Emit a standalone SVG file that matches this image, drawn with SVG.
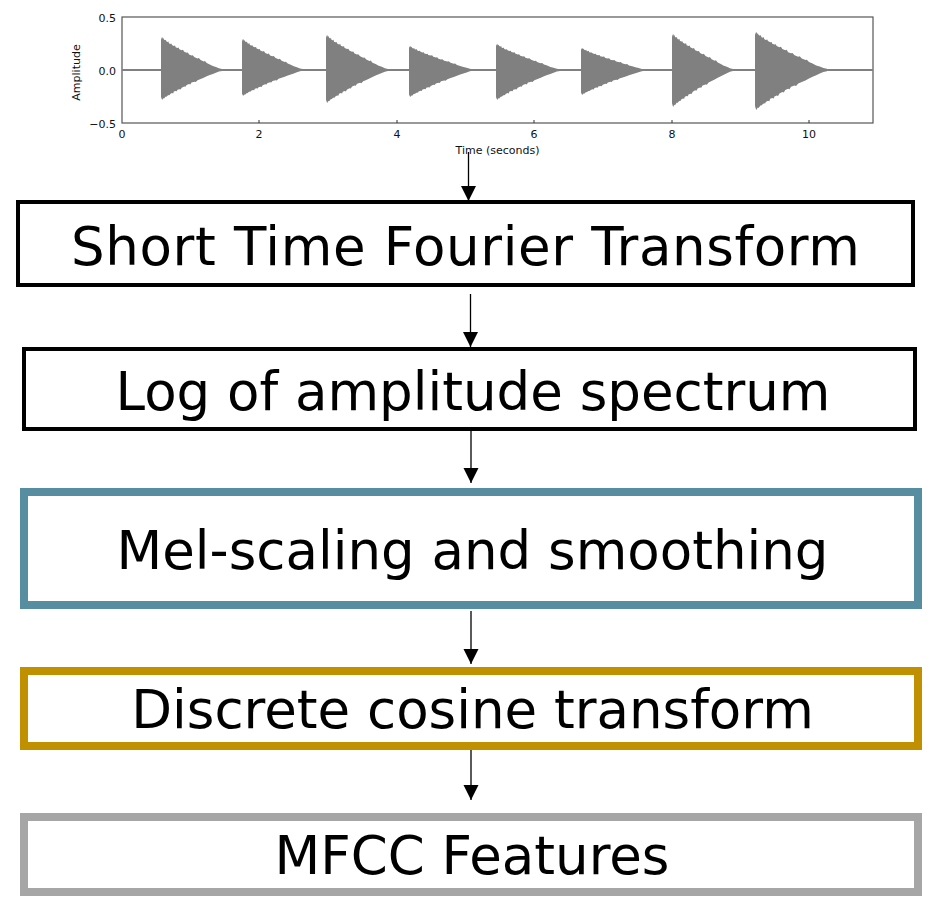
<svg xmlns="http://www.w3.org/2000/svg" width="937" height="912" viewBox="0 0 937 912">
<style>
  .box { fill: #ffffff; }
  .lbl { font-family: "DejaVu Sans", Verdana, sans-serif; font-size: 53px; fill: #000; text-anchor: middle; }
  .tick { font-family: "DejaVu Sans", sans-serif; font-size: 11px; fill: #111; }
  .conn { stroke: #000; stroke-width: 1.3; fill: none; marker-end: url(#arrow); }
  .wave { fill: #808080; }
</style>
<defs>
  <marker id="arrow" markerUnits="userSpaceOnUse" markerWidth="16" markerHeight="16" refX="15" refY="7.5" orient="auto">
    <path d="M0,0 L15,7.5 L0,15 Z" fill="#000"/>
  </marker>
  <path id="envT" d="M0,0 L0,-92 L1,-98 L2,-100 L3,-95 L4,-97 L5,-92 L7,-90 L8,-92 L9,-86 L11,-85 L12,-87 L13,-81 L15,-79 L17,-80 L18,-76 L21,-73 L23,-74 L24,-69 L27,-67 L29,-68 L30,-63 L34,-60 L36,-61 L38,-55 L42,-52 L44,-53 L46,-47 L50,-44 L52,-45 L55,-39 L60,-35 L62,-36 L65,-30 L70,-26 L72,-27 L75,-21 L80,-17 L85,-12 L90,-9 L95,-5 L100,-3 L100,0 Z"/>
  <path id="envB" d="M0,0 L0,90 L1,96 L2,100 L3,96 L4,94 L5,95 L7,90 L8,88 L9,89 L11,85 L13,83 L14,84 L15,80 L18,77 L20,78 L21,72 L24,70 L26,71 L27,66 L30,64 L32,65 L34,59 L38,55 L40,56 L42,50 L46,47 L48,48 L50,42 L55,39 L57,40 L60,34 L65,30 L70,26 L75,21 L80,17 L85,13 L90,9 L95,5 L100,3 L100,0 Z"/>
</defs>

<g id="waveform-plot">
  <rect x="122" y="17" width="751" height="106" fill="#fff" stroke="#555" stroke-width="1.2"/>
  <rect x="122" y="69" width="751" height="2" fill="#808080"/>
  <g class="wave">
    <use href="#envT" transform="translate(161,70) scale(0.61,0.33)"/>
    <use href="#envB" transform="translate(161,70) scale(0.61,0.30)"/>
    <use href="#envT" transform="translate(242,70) scale(0.61,0.31)"/>
    <use href="#envB" transform="translate(242,70) scale(0.61,0.26)"/>
    <use href="#envT" transform="translate(326,70) scale(0.62,0.35)"/>
    <use href="#envB" transform="translate(326,70) scale(0.62,0.33)"/>
    <use href="#envT" transform="translate(409,70) scale(0.64,0.24)"/>
    <use href="#envB" transform="translate(409,70) scale(0.64,0.27)"/>
    <use href="#envT" transform="translate(496,70) scale(0.64,0.26)"/>
    <use href="#envB" transform="translate(496,70) scale(0.64,0.30)"/>
    <use href="#envT" transform="translate(581,70) scale(0.64,0.22)"/>
    <use href="#envB" transform="translate(581,70) scale(0.64,0.25)"/>
    <use href="#envT" transform="translate(672,70) scale(0.61,0.36)"/>
    <use href="#envB" transform="translate(672,70) scale(0.61,0.37)"/>
    <use href="#envT" transform="translate(755,70) scale(0.72,0.38)"/>
    <use href="#envB" transform="translate(755,70) scale(0.72,0.40)"/>
  </g>
  <g stroke="#333" stroke-width="1">
    <line x1="259" y1="123" x2="259" y2="120"/>
    <line x1="397" y1="123" x2="397" y2="120"/>
    <line x1="534" y1="123" x2="534" y2="120"/>
    <line x1="672" y1="123" x2="672" y2="120"/>
    <line x1="809" y1="123" x2="809" y2="120"/>
  </g>
  <g class="tick" text-anchor="end">
    <text x="116" y="22">0.5</text>
    <text x="116" y="75">0.0</text>
    <text x="116" y="127.5">−0.5</text>
  </g>
  <g class="tick" text-anchor="middle">
    <text x="122" y="138">0</text>
    <text x="259" y="138">2</text>
    <text x="397" y="138">4</text>
    <text x="534" y="138">6</text>
    <text x="672" y="138">8</text>
    <text x="809" y="138">10</text>
    <text x="497.5" y="154">Time (seconds)</text>
    <text x="0" y="0" transform="translate(80,72.5) rotate(-90)">Amplitude</text>
  </g>
</g>

<g id="connectors">
  <line class="conn" x1="468.5" y1="152" x2="468.5" y2="201"/>
  <line class="conn" x1="470.5" y1="294" x2="470.5" y2="347"/>
  <line class="conn" x1="471" y1="431" x2="471" y2="483"/>
  <line class="conn" x1="471" y1="611" x2="471" y2="664"/>
  <line class="conn" x1="471" y1="746" x2="471" y2="800"/>
</g>

<g id="node-stft">
  <rect class="box" x="18" y="202" width="895" height="83" stroke="#000" stroke-width="4"/>
  <text class="lbl" x="465.5" y="265" textLength="789" lengthAdjust="spacing">Short Time Fourier Transform</text>
</g>
<g id="node-log">
  <rect class="box" x="24" y="349" width="891" height="80" stroke="#000" stroke-width="4"/>
  <text class="lbl" x="473" y="410">Log of amplitude spectrum</text>
</g>
<g id="node-mel">
  <rect class="box" x="24" y="492" width="894" height="113" stroke="#568DA0" stroke-width="8"/>
  <text class="lbl" x="472.5" y="569">Mel-scaling and smoothing</text>
</g>
<g id="node-dct">
  <rect class="box" x="24" y="671" width="894" height="75" stroke="#C09000" stroke-width="8"/>
  <text class="lbl" x="472.5" y="728">Discrete cosine transform</text>
</g>
<g id="node-mfcc">
  <rect class="box" x="24" y="817" width="894" height="75" stroke="#A6A6A6" stroke-width="8"/>
  <text class="lbl" x="472" y="873.5">MFCC Features</text>
</g>
</svg>
